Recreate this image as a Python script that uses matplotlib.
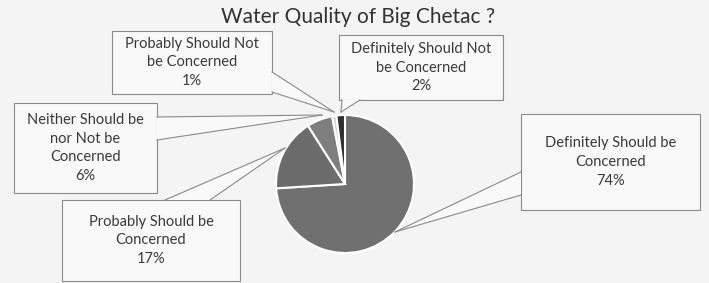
import matplotlib
matplotlib.use('Agg')
import matplotlib.pyplot as plt
from matplotlib.patches import Rectangle, Polygon

# Daten
labels = ['Definitely Should be\nConcerned', 'Probably Should be\nConcerned',
          'Neither Should be\nnor Not be\nConcerned', 'Probably Should Not\nbe Concerned',
          'Definitely Should Not\nbe Concerned']
values = [74, 17, 6, 1, 2]
slice_colors = ['#707070', '#6c6c6c', '#7e7e7e', '#d4d4d4', '#2e2e2e']
title = 'Water Quality of Big Chetac ?'

# Layout in Pixeln (oben links = 0,0)
W, H = 709, 283
pie_center = (345, 184)
pie_radius = 69
# Box: x0, y0, x1, y1 ; Zeiger: Basis1, Basis2, Spitze
boxes = [(521, 114, 700, 210), (62, 200, 240, 281), (14, 103, 157, 193),
         (112, 31, 272, 94), (339, 35, 503, 100)]
pointers = [((521, 172), (521, 195), (395, 232)),
            ((165, 200), (210, 200), (285, 148)),
            ((157, 117), (157, 140), (322, 115)),
            ((272, 72), (272, 92), (334, 112)),
            ((342, 100), (360, 100), (341, 112))]

def px(p):
    # Pixel -> Datenkoordinaten (y nach oben)
    return (p[0], H - p[1])

plt.rcParams['font.family'] = ['Lato', 'DejaVu Sans']
fig = plt.figure(figsize=(W / 100, H / 100), dpi=100)
fig.patch.set_facecolor('#f4f4f4')
ax = fig.add_axes([0, 0, 1, 1])
ax.set_facecolor('#f4f4f4')

ax.pie(values, colors=slice_colors, startangle=90, counterclock=False,
       center=px(pie_center), radius=pie_radius,
       wedgeprops=dict(edgecolor='white', linewidth=1.5))
ax.set_xlim(0, W)
ax.set_ylim(0, H)
ax.set_aspect('auto')
ax.axis('off')

edge = '#8a8a8a'
txt = '#3a3a3a'
pct = [f'{v}%' for v in values]
for lab, p, box, ptr in zip(labels, pct, boxes, pointers):
    x0, y0, x1, y1 = box
    ax.add_patch(Rectangle(px((x0, y1)), x1 - x0, y1 - y0, facecolor='#f9f9f9',
                           edgecolor=edge, linewidth=0.8, zorder=3))
    b1, b2, tip = ptr
    ax.add_patch(Polygon([px(b1), px(b2), px(tip)], closed=True, facecolor='#f9f9f9',
                         edgecolor='none', zorder=4))
    for b in (b1, b2):
        ax.plot([px(b)[0], px(tip)[0]], [px(b)[1], px(tip)[1]], color=edge, lw=0.8, zorder=5)
    cx, cy = (x0 + x1) / 2, (y0 + y1) / 2
    ax.text(*px((cx, cy)), lab + '\n' + p, ha='center', va='center', fontsize=10.5,
            color=txt, linespacing=1.45, zorder=6)

ax.text(*px((358, 17)), title, ha='center', va='center', fontsize=15, color='#333333')

fig.savefig('out.png', dpi=100, facecolor=fig.get_facecolor())
